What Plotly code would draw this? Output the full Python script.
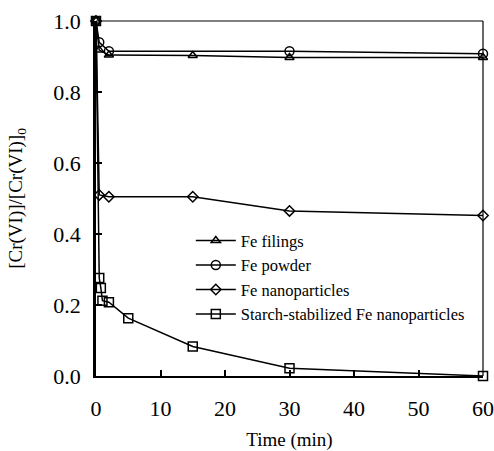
import plotly.graph_objects as go

t_filings = [0, 0.5, 2, 15, 30, 60]
y_filings = [1.0, 0.918, 0.904, 0.903, 0.897, 0.897]

t_powder = [0, 0.5, 2, 30, 60]
y_powder = [1.0, 0.94, 0.915, 0.915, 0.908]

t_nano = [0, 0.5, 2, 15, 30, 60]
y_nano = [1.0, 0.51, 0.505, 0.505, 0.465, 0.452]

t_starch = [0, 0.5, 0.75, 1, 2, 5, 15, 30, 60]
y_starch = [1.0, 0.276, 0.248, 0.212, 0.208, 0.163, 0.083, 0.022, 0.0]

names = ["Fe filings", "Fe powder", "Fe nanoparticles",
         "Starch-stabilized Fe nanoparticles"]
symbols = ["triangle-up-open", "circle-open", "diamond-open", "square-open"]
sizes = [8, 9, 8, 9]

fig = go.Figure()
for t, y, n, s, sz in zip([t_filings, t_powder, t_nano, t_starch],
                          [y_filings, y_powder, y_nano, y_starch],
                          names, symbols, sizes):
    fig.add_trace(go.Scatter(
        x=t, y=y, name=n, mode="lines+markers",
        line=dict(color="black", width=1.5),
        marker=dict(symbol=s, size=sz, color="black",
                    line=dict(color="black", width=1.5)),
        cliponaxis=False,
    ))

FF = "Liberation Serif"
fig.update_layout(
    width=494, height=451,
    margin=dict(l=96, r=11, t=21, b=75),
    paper_bgcolor="white", plot_bgcolor="white",
    font=dict(family=FF, color="black"),
    showlegend=True,
    legend=dict(x=0.245, y=0.43, xanchor="left", yanchor="top",
                bgcolor="rgba(0,0,0,0)", font=dict(family=FF, size=16.5, color="black"),
                tracegroupgap=0, itemwidth=40),
    xaxis=dict(range=[0, 60], tickvals=[0, 10, 20, 30, 40, 50, 60],
               ticks="inside", ticklen=6, tickwidth=1.5, tickcolor="black",
               showline=True, linecolor="black", linewidth=2, mirror=False,
               showgrid=False, zeroline=False, automargin=False,
               tickfont=dict(family=FF, size=22, color="black"), ticklabelstandoff=12,
               title=dict(text="Time (min)", font=dict(family=FF, size=19, color="black"),
                          standoff=18)),
    yaxis=dict(range=[0, 1.0], tickvals=[0, 0.2, 0.4, 0.6, 0.8, 1.0],
               tickformat=".1f",
               ticks="inside", ticklen=6, tickwidth=1.5, tickcolor="black",
               showline=True, linecolor="black", linewidth=2.5, mirror=False,
               showgrid=False, zeroline=False, automargin=False,
               tickfont=dict(family=FF, size=22, color="black"), ticklabelstandoff=8,
               title=dict(text="[Cr(VI)]/[Cr(VI)]<sub>0</sub>",
                          font=dict(family=FF, size=19, color="black"), standoff=26)),
)
# thin frame on top and right
fig.add_shape(type="line", xref="paper", yref="paper", x0=0, x1=1, y0=1, y1=1,
              line=dict(color="black", width=1.2))
fig.add_shape(type="line", xref="paper", yref="paper", x0=1, x1=1, y0=0, y1=1,
              line=dict(color="black", width=1.2))

fig.write_html("out.html")
